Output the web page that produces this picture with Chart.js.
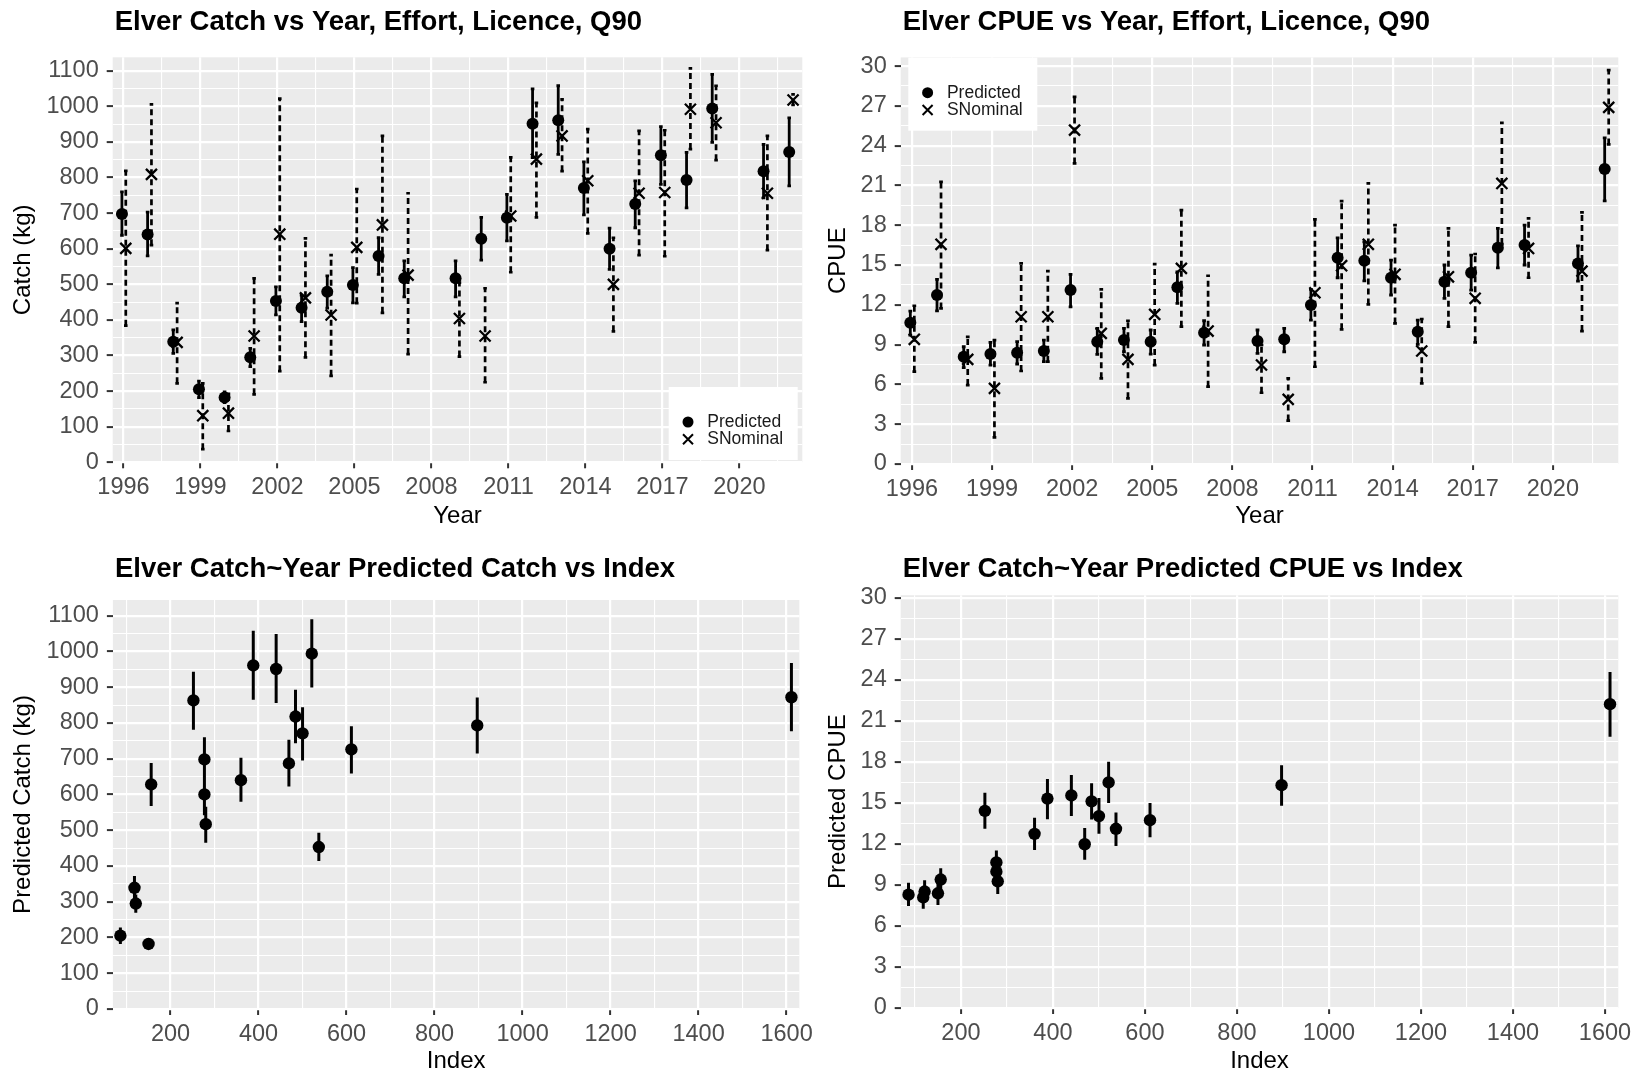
<!DOCTYPE html>
<html>
<head>
<meta charset="utf-8">
<title>Elver catch and CPUE</title>
<script src="https://cdn.jsdelivr.net/npm/chart.js@4.4.1/dist/chart.umd.min.js"></script>
<style>
  body { margin: 0; background: #ffffff; }
  #wrap { position: relative; width: 1637px; height: 1076px; }
  #wrap canvas { position: absolute; }
</style>
</head>
<body>
<div id="wrap">
  <canvas id="catchYear" width="818" height="538" style="left:0;top:0"></canvas>
  <canvas id="cpueYear" width="819" height="538" style="left:818px;top:0"></canvas>
  <canvas id="catchIndex" width="818" height="538" style="left:0;top:538px"></canvas>
  <canvas id="cpueIndex" width="819" height="538" style="left:818px;top:538px"></canvas>
</div>
<script>
// Survey years (no fishing data for 2008 and 2020)
const years = [1996, 1997, 1998, 1999, 2000, 2001, 2002, 2003, 2004, 2005, 2006, 2007,
               2009, 2010, 2011, 2012, 2013, 2014, 2015, 2016, 2017, 2018, 2019, 2021, 2022];

// Catch (kg): model prediction and standardised nominal, each with 90% bounds
const catchPred   = [698, 640, 339, 205, 182, 295, 453, 434, 479, 498, 580, 517, 517, 628, 687, 951, 961, 771, 600, 726, 863, 793, 994, 818, 872];
const catchPredLo = [638, 580, 306, 182, 168, 269, 414, 395, 433, 448, 528, 465, 465, 568, 622, 856, 865, 695, 542, 659, 781, 715, 899, 743, 777];
const catchPredHi = [760, 703, 372, 228, 198, 320, 493, 470, 524, 547, 631, 566, 566, 688, 753, 1049, 1058, 844, 658, 791, 943, 871, 1090, 893, 968];
const catchNom    = [601, 809, 337, 131, 138, 355, 641, 462, 414, 604, 667, 526, 404, 355, 692, 852, 917, 791, 500, 756, 758, 992, 954, 756, 1018];
const catchNomLo  = [384, 610, 222, 37, 88, 191, 256, 295, 243, 447, 420, 304, 297, 225, 534, 688, 818, 643, 368, 582, 579, 880, 849, 596, 1004];
const catchNomHi  = [819, 1006, 447, 222, 192, 517, 1022, 629, 582, 768, 917, 756, 505, 489, 857, 1010, 1020, 936, 631, 931, 933, 1107, 1058, 917, 1034];

// CPUE: same layout as the catch arrays
const cpuePred   = [10.65, 12.74, 8.09, 8.29, 8.39, 8.52, 13.11, 9.22, 9.34, 9.22, 13.32, 9.90, 9.27, 9.40, 11.98, 15.55, 15.32, 14.04, 9.97, 13.74, 14.42, 16.30, 16.50, 15.12, 22.23];
const cpuePredLo = [9.72, 11.55, 7.26, 7.46, 7.54, 7.71, 11.85, 8.27, 8.46, 8.29, 12.11, 8.97, 8.34, 8.46, 10.85, 14.04, 13.81, 12.74, 9.02, 12.49, 13.11, 14.79, 15.00, 13.79, 19.84];
const cpuePredHi = [11.53, 13.92, 8.84, 9.17, 9.22, 9.34, 14.30, 10.23, 10.23, 10.10, 14.49, 10.80, 10.10, 10.23, 13.16, 17.05, 16.75, 15.37, 10.85, 15.00, 15.75, 17.76, 18.01, 16.45, 24.59];
const cpueNom    = [9.40, 16.56, 7.89, 5.70, 11.10, 11.10, 25.17, 9.85, 7.89, 11.28, 14.75, 10.02, 7.46, 4.87, 12.91, 14.95, 16.56, 14.30, 8.52, 14.11, 12.49, 21.15, 16.25, 14.54, 26.88];
const cpueNomLo  = [6.96, 11.73, 5.95, 2.01, 7.01, 7.71, 22.66, 6.46, 4.95, 7.46, 10.35, 5.83, 5.37, 3.27, 7.33, 10.15, 12.03, 10.60, 6.08, 10.35, 9.17, 16.58, 14.04, 10.02, 24.09];
const cpueNomHi  = [11.93, 21.27, 9.59, 9.34, 15.12, 14.54, 27.68, 13.16, 10.80, 15.07, 19.14, 14.19, 8.97, 6.46, 18.44, 19.82, 21.15, 18.01, 10.93, 17.76, 15.83, 25.72, 18.52, 18.97, 29.69];

// Recruitment index per year (not available 2003-2007)
const indexByYear = [277, 360, 118, 86, 150, 121, 537, null, null, null, null, null,
                     280, 156, 469, 440, 388, 500, 277, 611, 252, 897, 521, 484, 1611];

// Labelled tick values
const yearTicks  = [1996, 1999, 2002, 2005, 2008, 2011, 2014, 2017, 2020];
const catchTicks = [0, 100, 200, 300, 400, 500, 600, 700, 800, 900, 1000, 1100];
const cpueTicks  = [0, 3, 6, 9, 12, 15, 18, 21, 24, 27, 30];
const indexTicks = [200, 400, 600, 800, 1000, 1200, 1400, 1600];

const FONT = '"Liberation Sans", Arial, sans-serif';
Chart.defaults.font.family = FONT;

// dodge the two series apart a little on the year axis
const PRED_DX = -0.06;
const NOM_DX = 0.09;
const CAP = 0.07;

// major ticks plus the half-way minor gridlines inside [min, max]
function withMinors(majors, min, max) {
    const step = majors[1] - majors[0];
    const out = [];
    for (let v = majors[0] - step; v <= max + 1e-9; v += step / 2) {
        if (v >= min - 1e-9) out.push(Math.round(v * 100) / 100);
    }
    return out;
}

// vertical error bars as one broken line: lo -> hi, gap, optional caps
function errorBars(xs, lo, hi, dx, cap) {
    const pts = [];
    xs.forEach((x, i) => {
        if (x == null) return;
        const px = x + dx;
        pts.push({ x: px, y: lo[i] }, { x: px, y: hi[i] }, { x: px, y: null });
        if (cap) {
            pts.push({ x: px - cap, y: hi[i] }, { x: px + cap, y: hi[i] }, { x: px, y: null });
            pts.push({ x: px - cap, y: lo[i] }, { x: px + cap, y: lo[i] }, { x: px, y: null });
        }
    });
    return pts;
}

function scaleOpts(axis, o) {
    const values = withMinors(o.majors, o.min, o.max);
    const isMajor = v => o.majors.includes(v);
    return {
        type: 'linear',
        position: axis === 'x' ? 'bottom' : 'left',
        min: o.min,
        max: o.max,
        afterBuildTicks: s => { s.ticks = values.map(v => ({ value: v })); },
        afterFit: s => { if (axis === 'x') s.height = o.size; else s.width = o.size; },
        ticks: {
            autoSkip: false, maxRotation: 0, minRotation: 0,
            color: '#4D4D4D',
            font: { size: 23.5 },
            padding: axis === 'x' ? 5 : 8,
            callback: v => isMajor(v) ? String(v) : ''
        },
        grid: {
            color: '#FFFFFF',
            lineWidth: c => (c.tick && isMajor(c.tick.value)) ? 2.2 : 1.1,
            tickLength: 6,
            tickWidth: 2,
            tickColor: c => (c.tick && isMajor(c.tick.value)) ? '#333333' : 'rgba(0,0,0,0)'
        },
        border: { display: false },
        title: {
            display: true, text: o.title, color: '#000000', font: { size: 24 },
            padding: axis === 'x' ? { top: 0, bottom: o.titlePad } : { top: o.titlePad, bottom: 0 }
        }
    };
}

// grey ggplot-style panel
const panelBackground = {
    id: 'panelBackground',
    beforeDraw(chart) {
        const { ctx, chartArea: a } = chart;
        ctx.save();
        ctx.fillStyle = '#EBEBEB';
        ctx.fillRect(a.left, a.top, a.right - a.left, a.bottom - a.top);
        ctx.restore();
    }
};

// bold title aligned to the panel's left edge
const panelTitle = {
    id: 'panelTitle',
    afterDraw(chart, args, opts) {
        if (!opts.text) return;
        const ctx = chart.ctx;
        ctx.save();
        ctx.font = 'bold 27.5px ' + FONT;
        ctx.fillStyle = '#000000';
        ctx.textBaseline = 'alphabetic';
        ctx.textAlign = 'left';
        ctx.fillText(opts.text, chart.chartArea.left + 2, opts.baseline);
        ctx.restore();
    }
};

// white key box inside the panel
const keyBox = {
    id: 'keyBox',
    afterDraw(chart, args, opts) {
        if (!opts.corner) return;
        const { ctx, chartArea: a } = chart;
        const w = 129, h = 73;
        const left = opts.corner === 'br' ? a.right - 4.6 - w : a.left + 7.6;
        const top = opts.corner === 'br' ? a.bottom - 2.3 - h : a.top + 0.3;
        ctx.save();
        ctx.fillStyle = '#FFFFFF';
        ctx.fillRect(left, top, w, h);
        const gx = left + 19.3;
        const r1 = top + 35, r2 = top + 52.3;
        ctx.fillStyle = '#000000';
        ctx.beginPath();
        ctx.arc(gx, r1, 5.5, 0, Math.PI * 2);
        ctx.fill();
        ctx.strokeStyle = '#000000';
        ctx.lineWidth = 2;
        ctx.beginPath();
        ctx.moveTo(gx - 5, r2 - 5); ctx.lineTo(gx + 5, r2 + 5);
        ctx.moveTo(gx - 5, r2 + 5); ctx.lineTo(gx + 5, r2 - 5);
        ctx.stroke();
        ctx.font = '17.5px ' + FONT;
        ctx.fillStyle = '#1A1A1A';
        ctx.textBaseline = 'middle';
        ctx.fillText('Predicted', left + 38.6, r1);
        ctx.fillText('SNominal', left + 38.6, r2);
        ctx.restore();
    }
};

function yearDatasets(pred, predLo, predHi, nom, nomLo, nomHi) {
    return [
        {
            type: 'scatter', label: 'SNominal',
            data: years.map((y, i) => ({ x: y + NOM_DX, y: nom[i] })),
            pointStyle: 'crossRot', pointRadius: 7.8, borderWidth: 2.3,
            borderColor: '#000000', backgroundColor: '#000000'
        },
        {
            type: 'line', data: errorBars(years, nomLo, nomHi, NOM_DX, CAP),
            borderColor: '#000000', borderWidth: 2.7, borderDash: [6, 4],
            pointRadius: 0, spanGaps: false, tension: 0, fill: false
        },
        {
            type: 'scatter', label: 'Predicted',
            data: years.map((y, i) => ({ x: y + PRED_DX, y: pred[i] })),
            pointStyle: 'circle', pointRadius: 6, borderWidth: 0,
            backgroundColor: '#000000'
        },
        {
            type: 'line', data: errorBars(years, predLo, predHi, PRED_DX, CAP),
            borderColor: '#000000', borderWidth: 2.8,
            pointRadius: 0, spanGaps: false, tension: 0, fill: false
        }
    ];
}

function indexDatasets(pred, lo, hi) {
    const rows = years.map((y, i) => i).filter(i => indexByYear[i] != null);
    return [
        {
            type: 'scatter', label: 'Predicted',
            data: rows.map(i => ({ x: indexByYear[i], y: pred[i] })),
            pointStyle: 'circle', pointRadius: 6.2, borderWidth: 0,
            backgroundColor: '#000000'
        },
        {
            type: 'line', data: errorBars(indexByYear, lo, hi, 0, 0),
            borderColor: '#000000', borderWidth: 3,
            pointRadius: 0, spanGaps: false, tension: 0, fill: false
        }
    ];
}

function makePanel(id, p) {
    const canvas = document.getElementById(id);
    if (!canvas) {
        console.error("Canvas " + id + " not found!");
        return;
    }
    new Chart(canvas.getContext('2d'), {
        type: 'scatter',
        data: { datasets: p.datasets },
        options: {
            responsive: false,
            animation: false,
            events: [],
            layout: { padding: p.padding },
            scales: { x: scaleOpts('x', p.x), y: scaleOpts('y', p.y) },
            plugins: {
                legend: { display: false },
                tooltip: { enabled: false },
                panelTitle: { text: p.title, baseline: p.titleBaseline },
                keyBox: { corner: p.key }
            }
        },
        plugins: [panelBackground, panelTitle, keyBox]
    });
}

makePanel('catchYear', {
    title: 'Elver Catch vs Year, Effort, Licence, Q90', titleBaseline: 30, key: 'br',
    padding: { left: 0, top: 57.3, right: 15.7, bottom: 5.7 },
    x: { min: 1995.58, max: 2022.45, majors: yearTicks, size: 70, title: 'Year', titlePad: 1.2 },
    y: { min: 0, max: 1138, majors: catchTicks, size: 112.7, title: 'Catch (kg)', titlePad: 8.6 },
    datasets: yearDatasets(catchPred, catchPredLo, catchPredHi, catchNom, catchNomLo, catchNomHi)
});

makePanel('cpueYear', {
    title: 'Elver CPUE vs Year, Effort, Licence, Q90', titleBaseline: 30, key: 'tl',
    padding: { left: 0, top: 57.4, right: 18.7, bottom: 4 },
    x: { min: 1995.58, max: 2022.45, majors: yearTicks, size: 70, title: 'Year', titlePad: 2.9 },
    y: { min: 0, max: 30.65, majors: cpueTicks, size: 82.7, title: 'CPUE', titlePad: 5.6 },
    datasets: yearDatasets(cpuePred, cpuePredLo, cpuePredHi, cpueNom, cpueNomLo, cpueNomHi)
});

makePanel('catchIndex', {
    title: 'Elver Catch~Year Predicted Catch vs Index', titleBaseline: 39.3, key: null,
    padding: { left: 0, top: 62, right: 15.2, bottom: 0 },
    x: { min: 69, max: 1629, majors: indexTicks, size: 67, title: 'Index', titlePad: 0 },
    y: { min: 0, max: 1144, majors: catchTicks, size: 112.9, title: 'Predicted Catch (kg)', titlePad: 8.6 },
    datasets: indexDatasets(catchPred, catchPredLo, catchPredHi)
});

makePanel('cpueIndex', {
    title: 'Elver Catch~Year Predicted CPUE vs Index', titleBaseline: 39.3, key: null,
    padding: { left: 0, top: 57.2, right: 18.7, bottom: 0 },
    x: { min: 69, max: 1629, majors: indexTicks, size: 68, title: 'Index', titlePad: 0 },
    y: { min: 0, max: 30.2, majors: cpueTicks, size: 82.7, title: 'Predicted CPUE', titlePad: 5.6 },
    datasets: indexDatasets(cpuePred, cpuePredLo, cpuePredHi)
});
</script>
</body>
</html>
